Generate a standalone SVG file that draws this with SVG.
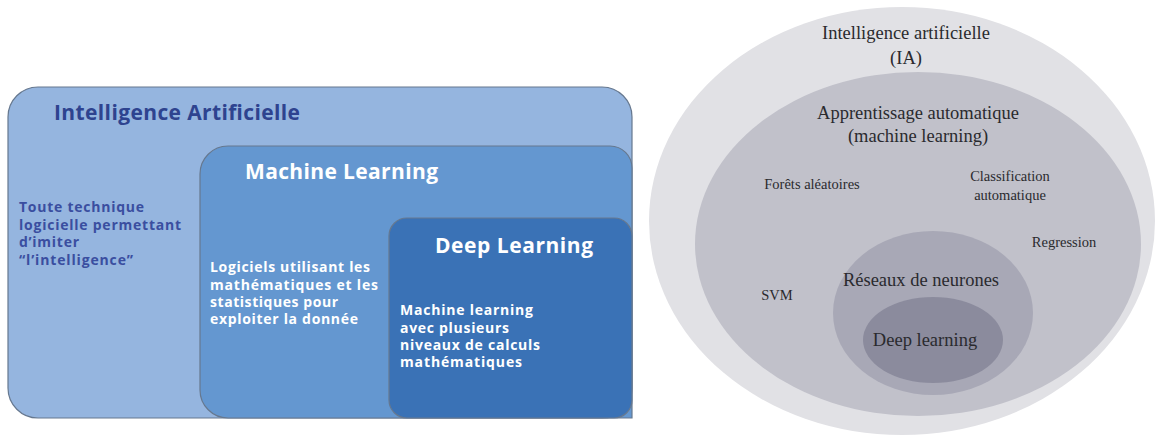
<svg xmlns="http://www.w3.org/2000/svg" width="1158" height="439" viewBox="0 0 1158 439">
<style>
.box{stroke:#66788f;stroke-width:1.2}
.t{font-family:"Open Sans","Liberation Sans",sans-serif;font-weight:700}
.h{font-size:21px}
.b{font-size:14px}
.s{font-family:"Liberation Serif","DejaVu Serif",serif;fill:#2a2a2e;text-anchor:middle}
.big{font-size:18.5px}
.sm{font-size:14.5px}
</style>
<rect width="1158" height="439" fill="#ffffff"/>
<g id="ia-box">
<rect class="box" x="8" y="87" width="624" height="331" rx="30" fill="#95b5df"/>
<text class="t h" x="54" y="120" textLength="246" fill="#2e438f">Intelligence Artificielle</text>
<text class="t b" fill="#3a4ea0"><tspan x="19" y="212" textLength="125">Toute technique</tspan><tspan x="19" y="230" textLength="162">logicielle permettant</tspan><tspan x="19" y="247" textLength="60">d’imiter</tspan><tspan x="19" y="265" textLength="114">“l’intelligence”</tspan></text>
</g>
<g id="ml-box">
<path class="box" d="M632 418 H228 A28 28 0 0 1 200 390 V174 A28 28 0 0 1 228 146 H610 A22 22 0 0 1 632 168 Z" fill="#6497d0"/>
<text class="t h" x="245" y="179" textLength="193" fill="#ffffff">Machine Learning</text>
<text class="t b" fill="#ffffff"><tspan x="210" y="272" textLength="160">Logiciels utilisant les</tspan><tspan x="210" y="290" textLength="168">mathématiques et les</tspan><tspan x="210" y="307" textLength="128">statistiques pour</tspan><tspan x="210" y="324" textLength="148">exploiter la donnée</tspan></text>
</g>
<g id="dl-box">
<rect class="box" x="389" y="218" width="243" height="200" rx="18" fill="#3a72b6"/>
<text class="t h" x="435" y="253" textLength="158" fill="#ffffff">Deep Learning</text>
<text class="t b" fill="#ffffff"><tspan x="400" y="315" textLength="133">Machine learning</tspan><tspan x="400" y="333" textLength="109">avec plusieurs</tspan><tspan x="400" y="350" textLength="140">niveaux de calculs</tspan><tspan x="400" y="367" textLength="122">mathématiques</tspan></text>
</g>
<g id="ia-ellipse">
<ellipse cx="902" cy="221" rx="253" ry="214" fill="#e1e1e5"/>
<text class="s big" x="906" y="39">Intelligence artificielle</text>
<text class="s big" x="906" y="64">(IA)</text>
</g>
<g id="ml-ellipse">
<ellipse cx="918" cy="244" rx="223" ry="172" fill="#c1c1ca"/>
<text class="s big" x="918" y="119">Apprentissage automatique</text>
<text class="s big" x="918" y="142">(machine learning)</text>
<text class="s sm" x="812" y="189">Forêts aléatoires</text>
<text class="s sm" x="1010" y="181">Classification</text>
<text class="s sm" x="1010" y="200">automatique</text>
<text class="s sm" x="1064" y="247">Regression</text>
<text class="s sm" x="777" y="300">SVM</text>
</g>
<g id="nn-ellipse">
<ellipse cx="933" cy="313" rx="100" ry="82" fill="#a8a8b6"/>
<text class="s big" x="921" y="286">Réseaux de neurones</text>
</g>
<g id="deep-ellipse">
<ellipse cx="933" cy="340" rx="70" ry="43" fill="#8b8b9d"/>
<text class="s big" x="925" y="346">Deep learning</text>
</g>
<g id="connectors"></g>
</svg>
